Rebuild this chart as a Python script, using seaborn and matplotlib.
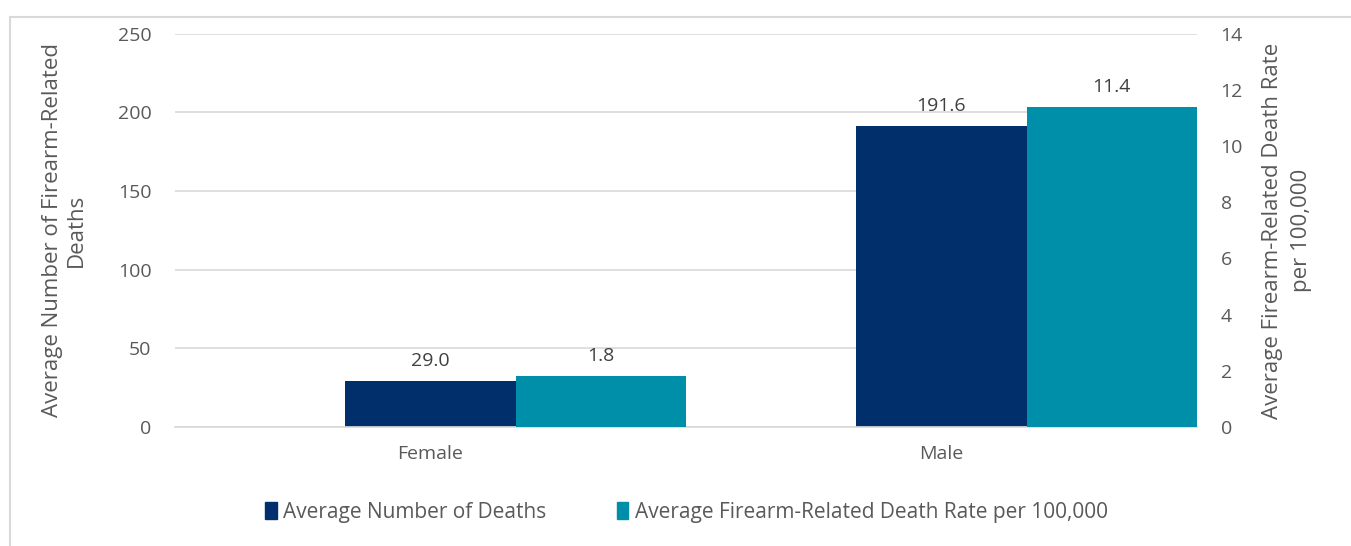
import pandas as pd
import seaborn as sns
import numpy as np
import matplotlib.pyplot as plt
from matplotlib.patches import Patch
from matplotlib.lines import Line2D

## DATA
sexes = ['Female', 'Male']
avg_deaths = [29.0, 191.6]
avg_rate = [1.8, 11.4]
series = ['Average Number of Deaths', 'Average Firearm-Related Death Rate per 100,000']

deaths_df = pd.DataFrame({'Sex': sexes, 'Value': avg_deaths, 'Series': series[0]})
rate_df = pd.DataFrame({'Sex': sexes, 'Value': avg_rate, 'Series': series[1]})

## STYLE
sns.set_theme(style='white')
plt.rcParams['font.family'] = ['Open Sans', 'DejaVu Sans']
grey = '#595959'
colors = {'': '#FFFFFF', series[0]: '#002F6C', series[1]: '#008FA8'}
# empty slot on the left so the dark bar sits on the category centre (Excel layout)
slots = ['', series[0], series[1]]

fig = plt.figure(figsize=(13.51, 5.46), dpi=100)
ax = fig.add_axes([0.1295, 0.218, 0.7565, 0.72])
ax2 = ax.twinx()

sns.barplot(data=deaths_df, x='Sex', y='Value', hue='Series', hue_order=slots,
            palette=colors, width=1.0, gap=0, dodge=True, ax=ax, legend=False,
            linewidth=0, saturation=1)
sns.barplot(data=rate_df, x='Sex', y='Value', hue='Series', hue_order=slots,
            palette=colors, width=1.0, gap=0, dodge=True, ax=ax2, legend=False,
            linewidth=0, saturation=1)

ax.set_ylim(0, 250)
ax.set_yticks(np.arange(0, 251, 50))
ax2.set_ylim(0, 14)
ax2.set_yticks(np.arange(0, 15, 2))
ax.set_xlim(-0.5, 1.5)

ax.yaxis.grid(True, color='#D9D9D9', linewidth=1.2)
ax.set_axisbelow(True)
for a in (ax, ax2):
    for s in a.spines.values():
        s.set_visible(False)
    a.tick_params(length=0, labelsize=14, labelcolor=grey)
ax.spines['bottom'].set_visible(True)
ax.spines['bottom'].set_color('#D9D9D9')
ax.tick_params(axis='x', pad=13)
ax.tick_params(axis='y', pad=17)
ax2.tick_params(axis='y', pad=17)

ax.set_xlabel('')
ax.set_ylabel('Average Number of Firearm-Related\nDeaths', fontsize=16, color=grey,
              labelpad=22, linespacing=1.2)
ax2.set_ylabel('Average Firearm-Related Death Rate\nper 100,000', fontsize=16, color=grey,
               rotation=90, labelpad=14, linespacing=1.45)

for c in ax.containers:
    ax.bar_label(c, fmt='%.1f', padding=8, fontsize=14, color='#404040')
for c in ax2.containers:
    ax2.bar_label(c, fmt='%.1f', padding=8, fontsize=14, color='#404040')

## LEGEND
handles = [Patch(color=colors[s]) for s in series]
fig.legend(handles, series, loc='center', bbox_to_anchor=(0.508, 0.062), ncol=2,
           frameon=False, fontsize=15, handlelength=0.55, handleheight=0.85,
           handletextpad=0.3, columnspacing=3.4, labelcolor=grey)

## FRAME
fig.add_artist(Line2D([10 / 1351, 1], [1 - 17 / 546] * 2, color='#D9D9D9', lw=1.5))
fig.add_artist(Line2D([10 / 1351] * 2, [0, 1 - 17 / 546], color='#D9D9D9', lw=1.5))

fig.savefig('out.png', dpi=100)
